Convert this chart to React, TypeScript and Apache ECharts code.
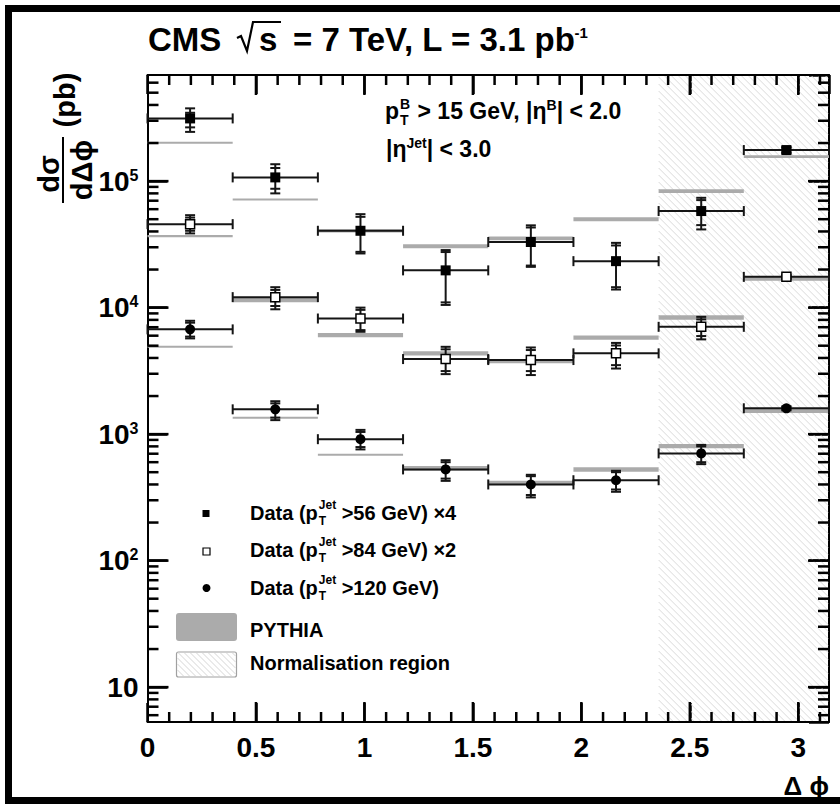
import React, { useEffect, useRef } from "react";
import * as echarts from "echarts";

const FF = '"Liberation Sans", Arial, Helvetica, sans-serif';

// Δφ bins (edges)
const binEdges = [0, 0.3927, 0.7854, 1.1781, 1.5708, 1.9635, 2.3562, 2.7489, 3.1416];
const xTickLabels = ["0", "0.5", "1", "1.5", "2", "2.5", "3"];
const yDecadeExponents = [1, 2, 3, 4, 5];
const normRegion = [2.3562, 3.1416];

// Data (pT Jet > 56 GeV) x4 : filled squares
const valA = [3.13e5, 1.07e5, 4.05e4, 1.97e4, 3.3e4, 2.33e4, 5.8e4, 1.76e5];
const statLoA = [2.66e5, 8.7e4, 2.76e4, 1.1e4, 2.15e4, 1.45e4, 4.49e4, 1.69e5];
const statHiA = [3.47e5, 1.27e5, 5.22e4, 2.75e4, 4.3e4, 3.1e4, 7.08e4, 1.83e5];
const totLoA = [2.45e5, 8.0e4, 2.68e4, 1.05e4, 2.1e4, 1.39e4, 4.15e4, 1.66e5];
const totHiA = [3.76e5, 1.36e5, 5.48e4, 2.85e4, 4.47e4, 3.25e4, 7.38e4, 1.86e5];
const pyA = [2.01e5, 7.17e4, 4.05e4, 3.06e4, 3.53e4, 5.0e4, 8.34e4, 1.56e5];
const pyBandA = [0.012, 0.012, 0.03, 0.035, 0.035, 0.035, 0.035, 0.025];

// Data (pT Jet > 84 GeV) x2 : open squares
const valB = [4.57e4, 1.21e4, 8.2e3, 3.92e3, 3.85e3, 4.35e3, 7.05e3, 1.75e4];
const statLoB = [4.05e4, 1.03e4, 6.64e3, 3.15e3, 3.15e3, 3.51e3, 5.96e3, 1.7e4];
const statHiB = [5.15e4, 1.38e4, 9.6e3, 4.68e3, 4.62e3, 5.02e3, 8.07e3, 1.8e4];
const totLoB = [3.86e4, 9.7e3, 6.44e3, 2.98e3, 2.93e3, 3.3e3, 5.61e3, 1.68e4];
const totHiB = [5.38e4, 1.45e4, 1.0e4, 4.9e3, 4.84e3, 5.26e3, 8.45e3, 1.82e4];
const pyB = [3.67e4, 1.15e4, 6.07e3, 4.35e3, 3.78e3, 5.8e3, 8.36e3, 1.7e4];
const pyBandB = [0.02, 0.04, 0.04, 0.04, 0.04, 0.04, 0.04, 0.04];

// Data (pT Jet > 120 GeV) : filled circles
const valC = [6.73e3, 1.57e3, 912, 526, 400, 432, 704, 1.6e3];
const statLoC = [5.9e3, 1.35e3, 790, 445, 330, 365, 600, 1.56e3];
const statHiC = [7.6e3, 1.75e3, 1040, 600, 465, 500, 800, 1.64e3];
const totLoC = [5.71e3, 1.29e3, 757, 427, 316, 350, 579, 1.54e3];
const totHiC = [7.87e3, 1.82e3, 1080, 622, 477, 513, 822, 1.66e3];
const pyC = [4.9e3, 1.35e3, 686, 538, 412, 526, 804, 1.53e3];
const pyBandC = [0.012, 0.012, 0.015, 0.04, 0.04, 0.04, 0.04, 0.04];

const X_MIN = 0;
const X_MAX = 3.1416;
const Y_MIN = 5.3;
const Y_MAX = 6.9e5;

let measureCtx: CanvasRenderingContext2D | null = null;
function tw(text: string, size: number) {
  if (!measureCtx) measureCtx = document.createElement("canvas").getContext("2d");
  measureCtx!.font = `bold ${size}px ${FF}`;
  return measureCtx!.measureText(text).width;
}

function txt(t: string, x: number, baseline: number, size: number, align = "left") {
  return {
    type: "text",
    x,
    y: baseline - 0.3465 * size,
    silent: true,
    z: 100,
    style: { text: t, font: `bold ${size}px ${FF}`, fill: "#000", align, verticalAlign: "middle" },
  };
}

type Run =
  | { t: string; size: number; rise?: number; gap?: number }
  | { sup: string; sub: string; size: number; supRise: number; subDrop: number; gap?: number };

function runs(x0: number, baseline: number, list: Run[]) {
  const els: any[] = [];
  let x = x0;
  for (const r of list as any[]) {
    if (r.gap) x += r.gap;
    if (r.sup !== undefined) {
      els.push(txt(r.sup, x, baseline - r.supRise, r.size));
      els.push(txt(r.sub, x, baseline + r.subDrop, r.size));
      x += Math.max(tw(r.sup, r.size), tw(r.sub, r.size));
    } else {
      els.push(txt(r.t, x, baseline - (r.rise || 0), r.size));
      x += tw(r.t, r.size);
    }
  }
  return els;
}

function hatchLines(x0: number, y0: number, x1: number, y1: number, step: number, color: string) {
  const out: any[] = [];
  for (let c = x0 - y1; c <= x1 - y0; c += step) {
    const ya = Math.max(y0, x0 - c);
    const yb = Math.min(y1, x1 - c);
    if (yb <= ya) continue;
    out.push({
      type: "line",
      shape: { x1: ya + c, y1: ya, x2: yb + c, y2: yb },
      style: { stroke: color, lineWidth: 1 },
    });
  }
  return out;
}

function errorSeries(vals: number[], sLo: number[], sHi: number[], tLo: number[], tHi: number[]) {
  const data = vals.map((v, i) => [binEdges[i], binEdges[i + 1], v, sLo[i], sHi[i], tLo[i], tHi[i]]);
  return {
    type: "custom",
    xAxisIndex: 0,
    yAxisIndex: 0,
    z: 4,
    silent: true,
    data,
    encode: { x: [0, 1], y: [2] },
    renderItem: (params: any, api: any) => {
      const xl = api.value(0);
      const xr = api.value(1);
      const v = api.value(2);
      const pL = api.coord([xl, v]);
      const pR = api.coord([xr, v]);
      const y = pL[1];
      const xc = (pL[0] + pR[0]) / 2;
      const ys = [api.value(3), api.value(4), api.value(5), api.value(6)].map((q: number) => api.coord([xl, q])[1]);
      const ln = (x1: number, y1: number, x2: number, y2: number) => ({
        type: "line",
        shape: { x1, y1, x2, y2 },
        style: { stroke: "#151515", lineWidth: 2 },
      });
      const children: any[] = [
        ln(pL[0], y, pR[0], y),
        ln(pL[0], y - 5, pL[0], y + 5),
        ln(pR[0], y - 5, pR[0], y + 5),
        ln(xc, ys[3], xc, ys[2]),
      ];
      for (const yy of ys) children.push(ln(xc - 5, yy, xc + 5, yy));
      return { type: "group", children };
    },
  };
}

function pythiaSeries(vals: number[], band: number[]) {
  const data = vals.map((v, i) => [binEdges[i], binEdges[i + 1], v, band[i]]);
  return {
    type: "custom",
    xAxisIndex: 0,
    yAxisIndex: 0,
    z: 3,
    silent: true,
    data,
    encode: { x: [0, 1], y: [2] },
    renderItem: (params: any, api: any) => {
      const v = api.value(2);
      const e = api.value(3);
      const p1 = api.coord([api.value(0), v * (1 + e)]);
      const p2 = api.coord([api.value(1), v * (1 - e)]);
      const h = Math.max(2, p2[1] - p1[1]);
      const yc = (p1[1] + p2[1]) / 2;
      return {
        type: "rect",
        shape: { x: p1[0], y: yc - h / 2, width: p2[0] - p1[0], height: h },
        style: { fill: "#ababab" },
      };
    },
  };
}

function markerSeries(vals: number[], symbol: string, size: number, fill: string, border: number) {
  return {
    type: "scatter",
    xAxisIndex: 0,
    yAxisIndex: 0,
    z: 5,
    silent: true,
    symbol,
    symbolSize: size,
    itemStyle: { color: fill, borderColor: "#000", borderWidth: border, opacity: 1 },
    data: vals.map((v, i) => [(binEdges[i] + binEdges[i + 1]) / 2, v]),
  };
}

// tick positions (axis decoration)
function tickValues() {
  const xMinor: number[] = [];
  const xMajor: number[] = [];
  for (let k = 1; k <= 31; k++) {
    if (k % 5 === 0) xMajor.push(k / 10);
    else xMinor.push(k / 10);
  }
  const yMinor: number[] = [];
  const yMajor: number[] = [];
  for (let e = 0; e <= 5; e++) {
    for (let m = 1; m <= 9; m++) {
      const v = m * Math.pow(10, e);
      if (v > Y_MIN && v < Y_MAX) (m === 1 ? yMajor : yMinor).push(v);
    }
  }
  return { xMinor, xMajor, yMinor, yMajor };
}

function buildGraphic() {
  const graphic: any[] = [];
  graphic.push({
    type: "rect",
    shape: { x: 8.5, y: 8.5, width: 840, height: 792 },
    style: { fill: "none", stroke: "#000", lineWidth: 7 },
    silent: true,
    z: 0,
  });

  // title
  const T = 33;
  const tb = 51;
  graphic.push(txt("CMS", 148, tb, T));
  graphic.push({
    type: "polyline",
    shape: { points: [[237, 38], [241, 36], [247, 51], [253, 22], [281, 22]] },
    style: { stroke: "#000", lineWidth: 2.2, fill: "none" },
    silent: true,
    z: 100,
  });
  graphic.push(txt("s", 259, tb, T));
  const tail = "= 7 TeV, L = 3.1 pb";
  graphic.push(txt(tail, 293, tb, T));
  graphic.push(txt("-1", 293 + tw(tail, T) - 1, 38, 15));

  // annotation
  graphic.push(
    ...runs(385, 119, [
      { t: "p", size: 23 },
      { sup: "B", sub: "T", size: 14, supRise: 10, subDrop: 6, gap: 1 },
      { t: " > 15 GeV, |η", size: 23, gap: 1 },
      { t: "B", size: 14, rise: 9 },
      { t: "| < 2.0", size: 23 },
    ])
  );
  graphic.push(
    ...runs(386, 157, [
      { t: "|η", size: 23 },
      { t: "Jet", size: 14, rise: 9 },
      { t: "| < 3.0", size: 23 },
    ])
  );

  // y axis title (rotated)
  graphic.push({
    type: "group",
    x: 63,
    y: 170,
    rotation: Math.PI / 2,
    silent: true,
    z: 100,
    children: [
      {
        type: "text",
        x: -4,
        y: -14,
        style: { text: "dσ", font: `bold 29px ${FF}`, fill: "#000", align: "center", verticalAlign: "middle" },
      },
      {
        type: "text",
        x: 0,
        y: 19,
        style: { text: "dΔϕ", font: `bold 29px ${FF}`, fill: "#000", align: "center", verticalAlign: "middle" },
      },
      { type: "line", shape: { x1: -33, y1: 0, x2: 33, y2: 0 }, style: { stroke: "#000", lineWidth: 2 } },
      {
        type: "text",
        x: 70,
        y: 2,
        style: { text: "(pb)", font: `bold 29px ${FF}`, fill: "#000", align: "center", verticalAlign: "middle" },
      },
    ],
  });

  // x axis title
  graphic.push(txt("Δ ϕ", 829, 795, 26, "right"));

  // legend
  const LS = 20;
  graphic.push({ type: "rect", shape: { x: 202.5, y: 510, width: 7, height: 7 }, style: { fill: "#000" }, silent: true, z: 100 });
  graphic.push({
    type: "rect",
    shape: { x: 203, y: 548, width: 7, height: 7 },
    style: { fill: "#fff", stroke: "#000", lineWidth: 1.2 },
    silent: true,
    z: 100,
  });
  graphic.push({ type: "circle", shape: { cx: 206.5, cy: 588, r: 4 }, style: { fill: "#000" }, silent: true, z: 100 });
  const legRows: [string, number][] = [
    [" >56 GeV) ×4", 520],
    [" >84 GeV) ×2", 557],
    [" >120 GeV)", 595],
  ];
  for (const [tl, bl] of legRows) {
    graphic.push(
      ...runs(250, bl, [
        { t: "Data (p", size: LS },
        { sup: "Jet", sub: "T", size: 12, supRise: 11, subDrop: 5, gap: 1 },
        { t: tl, size: LS },
      ])
    );
  }
  graphic.push({
    type: "rect",
    shape: { x: 176, y: 613, width: 61, height: 28, r: 3 },
    style: { fill: "#ababab" },
    silent: true,
    z: 100,
  });
  graphic.push(txt("PYTHIA", 250, 637, LS));
  graphic.push({
    type: "group",
    silent: true,
    z: 100,
    children: [
      { type: "rect", shape: { x: 176.5, y: 652, width: 60, height: 25, r: 2 }, style: { fill: "#fff", stroke: "#a0a0a0", lineWidth: 1.2 } },
      ...hatchLines(177.5, 653, 235.5, 676, 6, "#d6d6d6"),
    ],
  });
  graphic.push(txt("Normalisation region", 250, 670, LS));
  return graphic;
}

function buildOption() {
  const axisLabelCommon = { color: "#000", fontFamily: FF, fontWeight: "bold" as const, fontSize: 28 };
  const ticks = tickValues();

  const yFormatter = (v: number) => {
    const e = Math.log10(v);
    const r = Math.round(e);
    if (Math.abs(e - r) > 1e-6 || yDecadeExponents.indexOf(r) < 0) return "";
    return r === 1 ? "{b|10}" : `{b|10}{s|${r}}`;
  };
  const xFormatter = (v: number) => {
    for (const l of xTickLabels) if (Math.abs(parseFloat(l) - v) < 1e-6) return l;
    return "";
  };

  const xAxisBase = {
    type: "value",
    min: X_MIN,
    max: X_MAX,
    interval: 0.5,
    axisLine: { show: true, onZero: false, lineStyle: { color: "#000", width: 2 } },
    axisTick: { show: true, inside: true, length: 19, lineStyle: { color: "#000", width: 2.5 } },
    splitLine: { show: false },
  };
  const yAxisBase = {
    type: "log",
    logBase: 10,
    min: Y_MIN,
    max: Y_MAX,
    axisLine: { show: true, onZero: false, lineStyle: { color: "#000", width: 2 } },
    axisTick: { show: true, inside: true, length: 20, lineStyle: { color: "#000", width: 2.5 } },
    splitLine: { show: false },
  };

  return {
    animation: false,
    backgroundColor: "#fff",
    grid: { left: 147.5, top: 75, width: 681.5, height: 647, containLabel: false },
    xAxis: [
      {
        ...xAxisBase,
        position: "bottom",
        axisLabel: { ...axisLabelCommon, margin: 11, formatter: xFormatter, showMaxLabel: false, showMinLabel: true },
      },
      { ...xAxisBase, position: "top", axisLabel: { show: false } },
    ],
    yAxis: [
      {
        ...yAxisBase,
        position: "left",
        axisLabel: {
          ...axisLabelCommon,
          margin: 9,
          showMinLabel: false,
          showMaxLabel: false,
          formatter: yFormatter,
          rich: {
            b: { fontSize: 28, fontWeight: "bold", fontFamily: FF, color: "#000" },
            s: { fontSize: 16, fontWeight: "bold", fontFamily: FF, color: "#000", verticalAlign: "top" },
          },
        },
      },
      { ...yAxisBase, position: "right", axisLabel: { show: false } },
    ],
    graphic: buildGraphic(),
    series: [
      {
        type: "custom",
        xAxisIndex: 0,
        yAxisIndex: 0,
        z: 1,
        silent: true,
        data: [[normRegion[0], normRegion[1], 100]],
        encode: { x: [0, 1], y: [2] },
        renderItem: (params: any, api: any) => {
          const cs = params.coordSys;
          const x0 = api.coord([api.value(0), 100])[0];
          const x1 = api.coord([api.value(1), 100])[0];
          return { type: "group", children: hatchLines(x0, cs.y + 1, x1 - 1, cs.y + cs.height - 1, 7, "#dadada") };
        },
      },
      {
        // minor + major ticks on all four frame sides, placed through the axes' own scales
        type: "custom",
        xAxisIndex: 0,
        yAxisIndex: 0,
        z: 10,
        silent: true,
        data: [[normRegion[0], normRegion[1], 100]],
        encode: { x: [0, 1], y: [2] },
        renderItem: (params: any, api: any) => {
          const cs = params.coordSys;
          const yb = cs.y + cs.height;
          const xl = cs.x;
          const xr = cs.x + cs.width;
          const children: any[] = [];
          const ln = (ax: number, ay: number, bx: number, by: number) => ({
            type: "line",
            shape: { x1: ax, y1: ay, x2: bx, y2: by },
            style: { stroke: "#000", lineWidth: 2.5 },
          });
          for (const xv of ticks.xMinor) {
            const px = api.coord([xv, 100])[0];
            children.push(ln(px, yb, px, yb - 10), ln(px, cs.y, px, cs.y + 10));
          }
          for (const xv of ticks.xMajor) {
            const px = api.coord([xv, 100])[0];
            children.push(ln(px, yb, px, yb - 20), ln(px, cs.y, px, cs.y + 20));
          }
          for (const yv of ticks.yMinor) {
            const py = api.coord([1, yv])[1];
            children.push(ln(xl, py, xl + 11, py), ln(xr - 11, py, xr, py));
          }
          for (const yv of ticks.yMajor) {
            const py = api.coord([1, yv])[1];
            children.push(ln(xl, py, xl + 21, py), ln(xr - 21, py, xr, py));
          }
          return { type: "group", children };
        },
      },
      pythiaSeries(pyA, pyBandA),
      pythiaSeries(pyB, pyBandB),
      pythiaSeries(pyC, pyBandC),
      errorSeries(valA, statLoA, statHiA, totLoA, totHiA),
      errorSeries(valB, statLoB, statHiB, totLoB, totHiB),
      errorSeries(valC, statLoC, statHiC, totLoC, totHiC),
      markerSeries(valA, "rect", 10, "#000", 0),
      markerSeries(valB, "rect", 9, "#fff", 1.5),
      markerSeries(valC, "circle", 10, "#000", 0),
    ],
  };
}

export default function App() {
  const ref = useRef<HTMLDivElement>(null);
  useEffect(() => {
    if (!ref.current) return;
    const chart = echarts.init(ref.current, null, { renderer: "svg", width: 840, height: 804 });
    chart.setOption(buildOption() as any);
    return () => chart.dispose();
  }, []);
  return (
    <div
      ref={ref}
      style={{ position: "absolute", left: 0, top: 0, width: 840, height: 804, background: "#fff" }}
    />
  );
}
